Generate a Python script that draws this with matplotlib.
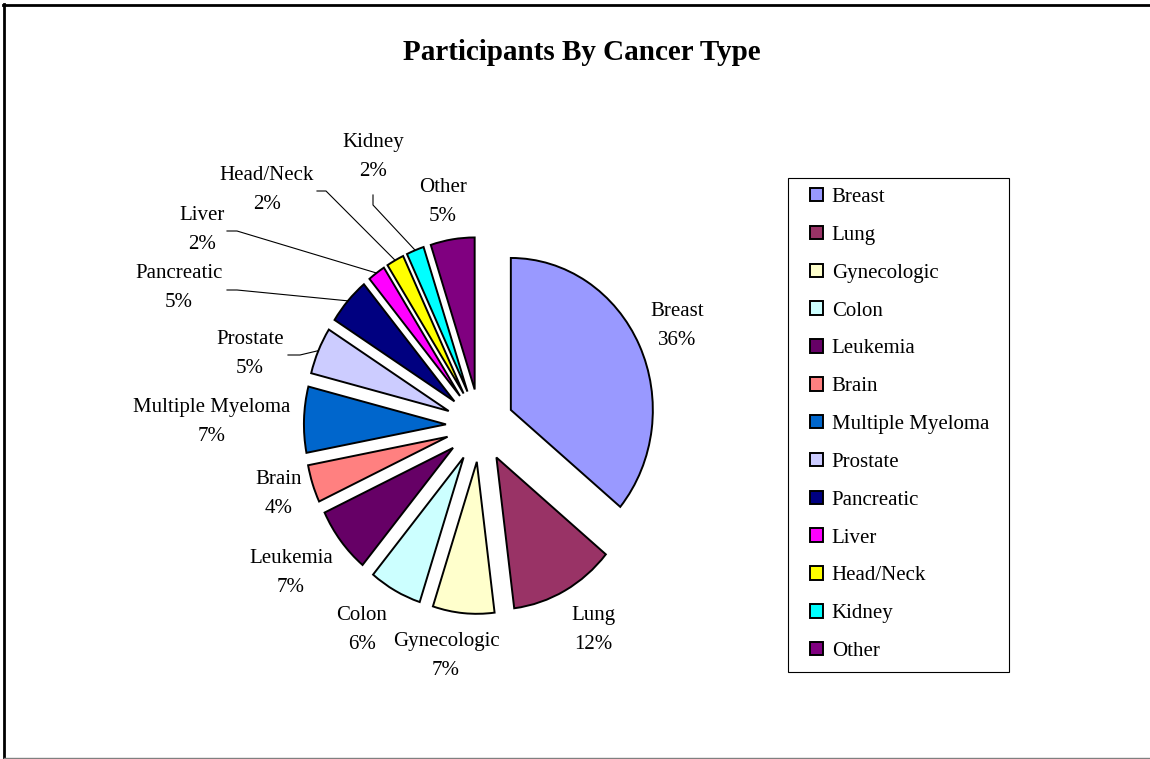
"""
Participants by cancer type -- exploded pie, Excel style.
"""
import matplotlib
matplotlib.use("Agg")
import matplotlib.pyplot as plt
from matplotlib.patches import Rectangle
import numpy as np

categories = ["Breast", "Lung", "Gynecologic", "Colon", "Leukemia", "Brain",
              "Multiple Myeloma", "Prostate", "Pancreatic", "Liver",
              "Head/Neck", "Kidney", "Other"]
shares = [36, 12, 7, 6, 7, 4, 7, 5, 5, 2, 2, 2, 5]
colors = ["#9999FF", "#993366", "#FFFFCC", "#CCFFFF", "#660066", "#FF8080",
          "#0066CC", "#CCCCFF", "#000080", "#FF00FF", "#FFFF00", "#00FFFF",
          "#800080"]

# layout (figure pixels, origin top-left)
W, H = 1150, 759
CX, CY, RX, RY = 480, 425.5, 142, 152     # pie centre and radii (pie is a bit squashed)
EXPLODE = 0.24
label_px = [(677, 326), (593, 630), (446, 656), (362, 630), (291, 573),
            (279, 494), (212, 422), (250, 354), (179, 288), (202, 230),
            (267, 190), (373, 157), (443, 202)]
# leader lines: label-side start point and kink point
leaders = {7: [(288, 355), (300, 355)],
           8: [(227, 290), (237, 290)],
           9: [(227, 231), (237, 231)],
           10: [(317, 191), (326, 191)],
           11: [(373, 195), (373, 205)]}

plt.rcParams["font.family"] = ["Liberation Serif", "DejaVu Serif"]

fig = plt.figure(figsize=(W / 100, H / 100), dpi=100)
ax = fig.add_axes([0, 0, 1, 1])


def P(x, y):
    return (x - CX) / RX, (CY - y) / RY


wedges, _ = ax.pie(shares, colors=colors, startangle=90, counterclock=False,
                   explode=[EXPLODE] * len(shares), radius=1,
                   wedgeprops=dict(edgecolor="black", linewidth=1.4))
ax.set_aspect("auto")
ax.set_xlim(-CX / RX, (W - CX) / RX)
ax.set_ylim((CY - H) / RY, CY / RY)
ax.axis("off")

total = sum(shares)
for i, (name, v) in enumerate(zip(categories, shares)):
    lx, ly = P(*label_px[i])
    ax.text(lx, ly, f"{name}\n{v / total:.0%}", ha="center", va="center",
            fontsize=15, linespacing=1.65)
    if i in leaders:
        w = wedges[i]
        mid = np.deg2rad((w.theta1 + w.theta2) / 2)
        ex, ey = w.center[0] + np.cos(mid), w.center[1] + np.sin(mid)
        pts = [P(*p) for p in leaders[i]] + [(ex, ey)]
        ax.plot([p[0] for p in pts], [p[1] for p in pts], color="black", lw=0.8)

fig.text(582 / W, 1 - 52 / H, "Participants By Cancer Type", ha="center",
         va="center", fontsize=21, fontweight="bold")

# legend box drawn separately, entries via legend
fig.patches.append(Rectangle((788 / W, 1 - 672 / H), 221 / W, 494 / H,
                             transform=fig.transFigure, fill=False,
                             edgecolor="black", lw=0.8))
fig.legend(wedges, categories, loc="upper left", frameon=False,
           bbox_to_anchor=(810 / W, 1 - 188 / H), borderpad=0,
           borderaxespad=0, fontsize=15, handlelength=0.6, handleheight=0.62,
           handletextpad=0.45, labelspacing=0.9)

# outer chart border
fig.add_artist(plt.Line2D([3 / W, 1], [1 - 5 / H] * 2, color="black", lw=2,
                          transform=fig.transFigure))
fig.add_artist(plt.Line2D([4 / W] * 2, [0, 1 - 4 / H], color="black", lw=2,
                          transform=fig.transFigure))
fig.add_artist(plt.Line2D([4 / W, 1], [1.2 / H] * 2, color="grey", lw=1,
                          transform=fig.transFigure))

fig.savefig("out.png", dpi=100)
